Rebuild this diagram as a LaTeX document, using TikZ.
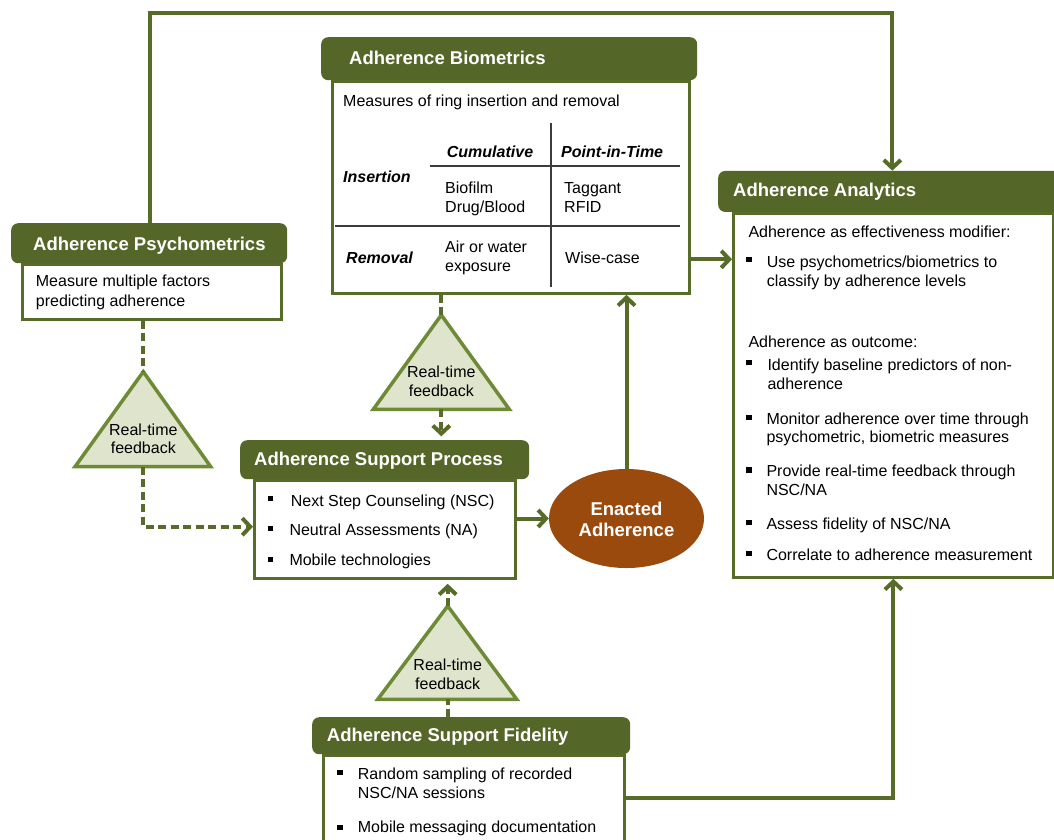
\documentclass[tikz,border=0pt]{standalone}
\usepackage{fontspec}
\setmainfont{Liberation Sans}
\usetikzlibrary{arrows.meta,shapes.geometric}
\definecolor{hdrgreen}{RGB}{85,103,40}
\definecolor{boxgreen}{RGB}{88,108,42}
\definecolor{linegreen}{RGB}{88,108,42}
\definecolor{triedge}{RGB}{110,138,52}
\definecolor{trifill}{RGB}{222,229,204}
\definecolor{brown}{RGB}{154,74,12}
\definecolor{tabgray}{RGB}{60,60,60}
\tikzset{
  hdr/.style={fill=hdrgreen, rounded corners=7pt, draw=none, inner sep=0, anchor=north west},
  bodybox/.style={draw=boxgreen, line width=2.8pt, fill=white, inner sep=0, anchor=north west},
  tx/.style={font=\fontsize{16}{19}\selectfont, anchor=base west, inner sep=0},
  ctx/.style={font=\fontsize{16}{19}\selectfont, anchor=base, inner sep=0},
  bitx/.style={font=\bfseries\itshape\fontsize{16}{19}\selectfont, anchor=base west, inner sep=0},
  htx/.style={font=\bfseries\fontsize{18.5}{22}\selectfont, text=white, anchor=base west, inner sep=0},
  conn/.style={draw=linegreen, line width=4pt},
  dsh/.style={conn, dash pattern=on 8pt off 4.5pt},
  arr/.style={-{Straight Barb[length=8pt,width=17pt]}},
  tri/.style={draw=triedge, fill=trifill, line width=3.5pt, line join=miter},
  blt/.style={fill=black, minimum size=5.5pt, inner sep=0},
  tabline/.style={draw=tabgray, line width=2pt}
}
\begin{document}
\begin{tikzpicture}[x=1pt,y=-1pt]
\useasboundingbox (0,0) rectangle (1054,839);
\clip (0,0) rectangle (1054,839);
\fill[white] (0,0) rectangle (1054,839);

% helper coordinates
\coordinate (y259) at (0,259.3);
\coordinate (y527) at (0,526.7);
\coordinate (y798) at (0,798.3);
\coordinate (topL) at (150,13.3);
\coordinate (topR) at (892.3,13.3);

% ---------------- Biometrics ----------------
\node[bodybox, minimum width=357, minimum height=212] (bioB) at (331,80) {};
\node[hdr, minimum width=376, minimum height=43] (bioH) at (321,37) {};
\node[htx] (bioHt) at (349,64) {Adherence Biometrics};
\node[tx] (bio1) at (343,106) {Measures of ring insertion and removal};
\coordinate (tv1) at (551,123);
\coordinate (tv2) at (551,287);
\coordinate (th1a) at (430,165.7);
\coordinate (th1b) at (680,165.7);
\coordinate (th2a) at (335,225.7);
\coordinate (th2b) at (680,225.7);
\draw[tabline] (tv1) -- (tv2);
\draw[tabline] (th1a) -- (th1b);
\draw[tabline] (th2a) -- (th2b);
\node[bitx] (cum) at (446.7,157) {Cumulative};
\node[bitx] (pit) at (561,157) {Point-in-Time};
\node[bitx] (ins) at (343,182) {Insertion};
\node[bitx] (rem) at (346,263) {Removal};
\node[tx] (bf) at (445,193.5) {Biofilm};
\node[tx] (db) at (445,212) {Drug/Blood};
\node[tx] (tg) at (564,193.5) {Taggant};
\node[tx] (rf) at (564,212) {RFID};
\node[tx] (aw) at (445,252) {Air or water};
\node[tx] (ex) at (445,271.5) {exposure};
\node[tx] (wc) at (565,263) {Wise-case};

% ---------------- Psychometrics ----------------
\node[bodybox, minimum width=259, minimum height=55] (psyB) at (21,263) {};
\node[hdr, minimum width=276, minimum height=40] (psyH) at (11,223) {};
\node[htx] (psyHt) at (33,250.7) {Adherence Psychometrics};
\node[tx] (psy1) at (35.7,286.5) {Measure multiple factors};
\node[tx] (psy2) at (35.7,306) {predicting adherence};

% ---------------- Support Process ----------------
\node[bodybox, minimum width=261, minimum height=98] (supB) at (253,479) {};
\node[hdr, minimum width=289, minimum height=39] (supH) at (240,440) {};
\node[htx] (supHt) at (254,465) {Adherence Support Process};
\node[blt] (sb1) at (270.7,498.3) {};
\node[blt] (sb2) at (270.7,528.3) {};
\node[blt] (sb3) at (270.7,559.3) {};
\node[tx] (sp1) at (290.7,506) {Next Step Counseling (NSC)};
\node[tx] (sp2) at (289.3,535) {Neutral Assessments (NA)};
\node[tx] (sp3) at (289.3,565) {Mobile technologies};

% ---------------- Analytics ----------------
\node[bodybox, minimum width=320, minimum height=364.3] (anaB) at (732,211.7) {};
\node[hdr, minimum width=346, minimum height=41] (anaH) at (718,170.7) {};
\node[htx] (anaHt) at (733,196) {Adherence Analytics};
\node[tx] (an1) at (748.3,237.3) {Adherence as effectiveness modifier:};
\node[blt] (ab1) at (749,259.3) {};
\node[tx] (an2) at (766.7,267.3) {Use psychometrics/biometrics to};
\node[tx] (an3) at (766.7,286) {classify by adherence levels};
\node[tx] (an4) at (748.3,347.3) {Adherence as outcome:};
\node[blt] (ab2) at (749,362.3) {};
\node[tx] (an5) at (767.3,370.7) {Identify baseline predictors of non-};
\node[tx] (an6) at (767.3,389.3) {adherence};
\node[blt] (ab3) at (749,417.7) {};
\node[tx] (an7) at (766.3,424) {Monitor adherence over time through};
\node[tx] (an8) at (766.3,442.7) {psychometric, biometric measures};
\node[blt] (ab4) at (749,470) {};
\node[tx] (an9) at (766.3,476.7) {Provide real-time feedback through};
\node[tx] (an10) at (766.3,495) {NSC/NA};
\node[blt] (ab5) at (749,522.7) {};
\node[tx] (an11) at (766.3,529.3) {Assess fidelity of NSC/NA};
\node[blt] (ab6) at (749,553.3) {};
\node[tx] (an12) at (766.3,560) {Correlate to adherence measurement};

% ---------------- Fidelity ----------------
\node[bodybox, minimum width=301, minimum height=100] (fidB) at (322,754) {};
\node[hdr, minimum width=318, minimum height=37] (fidH) at (312,717) {};
\node[htx] (fidHt) at (326.7,741.7) {Adherence Support Fidelity};
\node[blt] (fb1) at (340,772.7) {};
\node[blt] (fb2) at (340,827.3) {};
\node[tx] (fd1) at (357.7,779) {Random sampling of recorded};
\node[tx] (fd2) at (357.7,798) {NSC/NA sessions};
\node[tx] (fd3) at (357.7,832) {Mobile messaging documentation};

% ---------------- Enacted Adherence ----------------
\node[ellipse, fill=brown, minimum width=155, minimum height=99, inner sep=0] (enact) at (626.5,518.5) {};
\node[font=\bfseries\fontsize{18.5}{22}\selectfont, text=white, anchor=base, inner sep=0] (en1) at (626.5,515) {Enacted};
\node[font=\bfseries\fontsize{18.5}{22}\selectfont, text=white, anchor=base, inner sep=0] (en2) at (626.5,536.7) {Adherence};

% ---------------- Triangles ----------------
\coordinate (t1top) at (143.3,371.7);
\coordinate (t1base) at (143.3,466.7);
\draw[tri] (t1top) -- (210.7,466.7) -- (75,466.7) -- cycle;
\node[ctx] (t1a) at (143.3,435) {Real-time};
\node[ctx] (t1b) at (143.3,453.3) {feedback};

\coordinate (t2top) at (441.3,315);
\coordinate (t2base) at (441.3,409.3);
\draw[tri] (t2top) -- (509.3,409.3) -- (373.3,409.3) -- cycle;
\node[ctx] (t2a) at (441.3,377) {Real-time};
\node[ctx] (t2b) at (441.3,396) {feedback};

\coordinate (t3top) at (447.7,606);
\coordinate (t3base) at (447.7,699.3);
\draw[tri] (t3top) -- (516.7,699.3) -- (377.7,699.3) -- cycle;
\node[ctx] (t3a) at (447.7,670.7) {Real-time};
\node[ctx] (t3b) at (447.7,689) {feedback};

% ---------------- Connectors ----------------
\draw[conn, arr] (psyH.north -| topL) -- (topL) -- (topR) -- (topR |- anaH.north);
\draw[conn, arr] (bioB.east |- y259) -- (anaB.west |- y259);
\draw[dsh] (bioB.south -| t2top) -- (t2top);
\draw[dsh, arr] (t2base) -- ++(0,27);
\draw[dsh] (psyB.south -| t1top) -- (t1top);
\draw[dsh, arr] (t1base) |- (supB.west |- y527);
\draw[conn, arr] (supB.east |- enact.west) -- (enact.west);
\draw[conn, arr] (enact.north) -- (enact.north |- bioB.south);
\draw[dsh] (fidH.north -| t3base) -- (t3base);
\draw[dsh, arr] (t3top) -- ([yshift=-4pt]t3top |- supB.south);
\draw[conn, arr] (fidB.east |- y798) -| (anaB.south);
\end{tikzpicture}
\end{document}
